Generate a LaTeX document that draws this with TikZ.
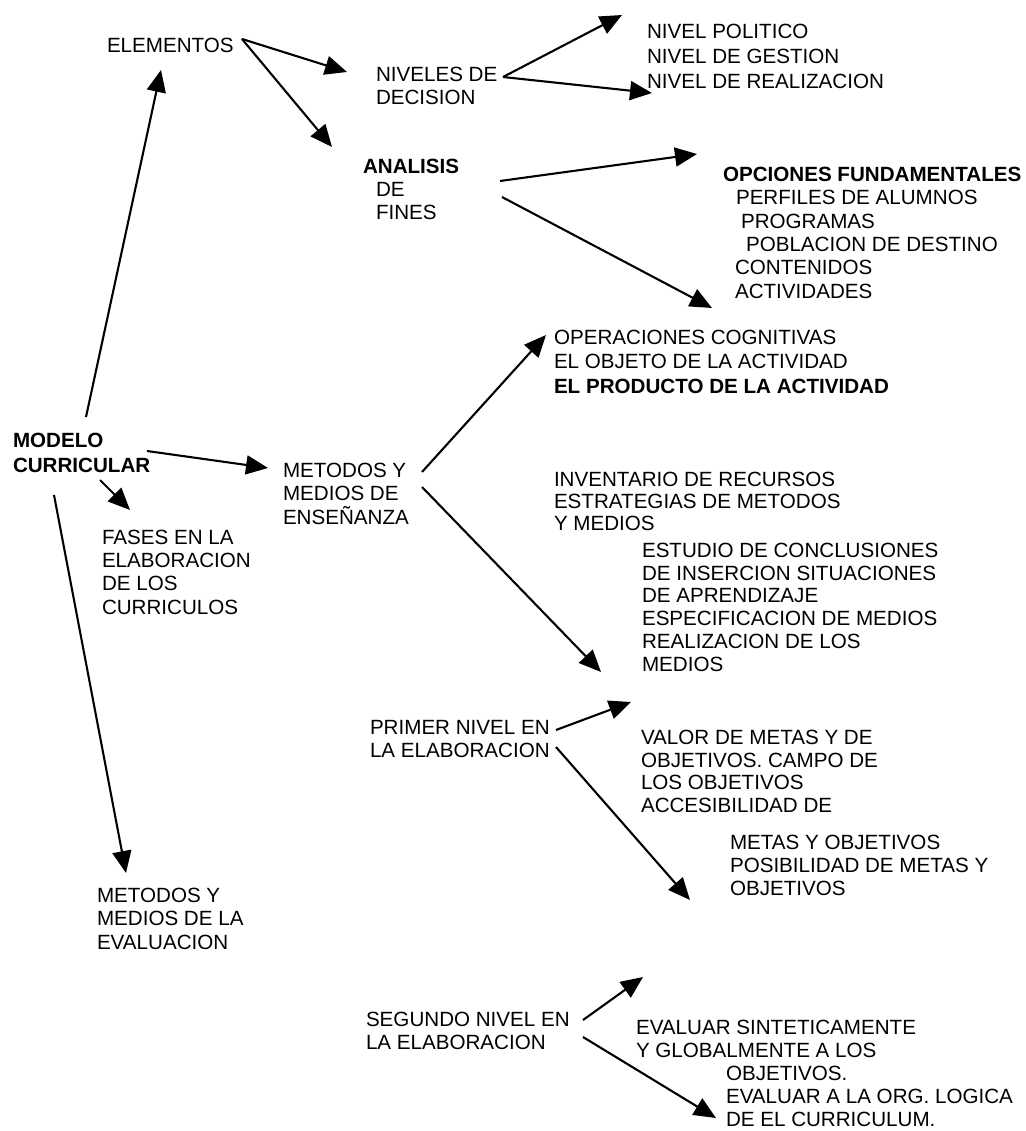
\documentclass[tikz,border=0pt]{standalone}
\usepackage{fontspec}
\setmainfont{Liberation Sans}
\usetikzlibrary{arrows.meta}
\begin{document}
\begin{tikzpicture}[x=1pt,y=-1pt,
  lbl/.style={anchor=north west, inner sep=0pt, outer sep=0pt, align=left,
              font=\fontsize{20.6}{#1}\selectfont},
  lbl/.default=23.2,
  conn/.style={line width=2.1pt, -{Triangle[length=22pt,width=19pt]}}]
\useasboundingbox (0,0) rectangle (1025,1131);

% ---- text nodes ----
\node[lbl] (elementos) at (107,38) {ELEMENTOS};
\node[lbl=23] (niveles) at (376,67) {NIVELES DE\\DECISION};
\node[lbl=25] (nivpol) at (647,24) {NIVEL POLITICO\\NIVEL DE GESTION\\NIVEL DE REALIZACION};
\node[lbl=23] (analisis) at (363,159) {\textbf{ANALISIS}\\\hspace*{13pt}DE\\\hspace*{13pt}FINES};
\node[lbl=23.4] (opciones) at (723,167) {\textbf{OPCIONES FUNDAMENTALES}\\
  \hspace*{13pt}PERFILES DE ALUMNOS\\
  \hspace*{18pt}PROGRAMAS\\
  \hspace*{23pt}POBLACION DE DESTINO\\
  \hspace*{12pt}CONTENIDOS\\
  \hspace*{12pt}ACTIVIDADES};
\node[lbl=24.5] (operaciones) at (554,330) {OPERACIONES COGNITIVAS\\EL OBJETO DE LA ACTIVIDAD\\\textbf{EL PRODUCTO DE LA ACTIVIDAD}};
\node[lbl=25] (modelo) at (13,433) {\textbf{MODELO}\\\textbf{CURRICULAR}};
\node[lbl=23.5] (metodos) at (283,463) {METODOS Y\\MEDIOS DE\\ENSEÑANZA};
\node[lbl=23.3] (fases) at (102,530) {FASES EN LA\\ELABORACION\\DE LOS\\CURRICULOS};
\node[lbl=22] (inventario) at (554,472) {INVENTARIO DE RECURSOS\\ESTRATEGIAS DE METODOS\\Y MEDIOS};
\node[lbl=22.8] (estudio) at (642,543) {ESTUDIO DE CONCLUSIONES\\DE INSERCION SITUACIONES\\DE APRENDIZAJE\\ESPECIFICACION DE MEDIOS\\REALIZACION DE LOS\\MEDIOS};
\node[lbl=23] (primer) at (370,720) {PRIMER NIVEL EN\\LA ELABORACION};
\node[lbl=22.7] (valor) at (641,730) {VALOR DE METAS Y DE\\OBJETIVOS. CAMPO DE\\LOS OBJETIVOS\\ACCESIBILIDAD DE};
\node[lbl=23] (metas) at (730,835) {METAS Y OBJETIVOS\\POSIBILIDAD DE METAS Y\\OBJETIVOS};
\node[lbl=23.5] (evaluacion) at (97,888) {METODOS Y\\MEDIOS DE LA\\EVALUACION};
\node[lbl=23] (segundo) at (366,1012) {SEGUNDO NIVEL EN\\LA ELABORACION};
\node[lbl=23] (evaluar) at (636,1020) {EVALUAR SINTETICAMENTE\\Y GLOBALMENTE A LOS\\
  \hspace*{90pt}OBJETIVOS.\\
  \hspace*{90pt}EVALUAR A LA ORG. LOGICA\\
  \hspace*{90pt}DE EL CURRICULUM.};

% ---- connector end points ----
\coordinate (mUp)   at (86,417);
\coordinate (mRt)   at (147,451);
\coordinate (mDr)   at (100,480);
\coordinate (mDn)   at (54,495);
\coordinate (eOut)  at (242,39);
\coordinate (nOut)  at (503,77);
\coordinate (aOutU) at (500,181);
\coordinate (aOutD) at (502,197);
\coordinate (meOutU) at (422,472);
\coordinate (meOutD) at (422,487);
\coordinate (pOutU) at (556,730);
\coordinate (pOutD) at (556,747);
\coordinate (sOutU) at (583,1020);
\coordinate (sOutD) at (583,1037);

\coordinate (tElem)  at (161,70);
\coordinate (tMet)   at (268,468);
\coordinate (tFas)   at (130,510);
\coordinate (tEval)  at (126,873);
\coordinate (tNiv)   at (347,72);
\coordinate (tAna)   at (332,147);
\coordinate (tPol)   at (622,15);
\coordinate (tReal)  at (652,93);
\coordinate (tOpc)   at (697,154);
\coordinate (tAct)   at (712,308);
\coordinate (tOper)  at (546,335);
\coordinate (tMed)   at (601,672);
\coordinate (tValor) at (631,702);
\coordinate (tMetas) at (690,900);
\coordinate (tEvS)   at (643,977);
\coordinate (tEvC)   at (716,1118);

% ---- connectors ----
\draw[conn] (mUp) -- (tElem);
\draw[conn] (mRt) -- (tMet);
\draw[conn] (mDr) -- (tFas);
\draw[conn] (mDn) -- (tEval);
\draw[conn] (eOut) -- (tNiv);
\draw[conn] (eOut) -- (tAna);
\draw[conn] (nOut) -- (tPol);
\draw[conn] (nOut) -- (tReal);
\draw[conn] (aOutU) -- (tOpc);
\draw[conn] (aOutD) -- (tAct);
\draw[conn] (meOutU) -- (tOper);
\draw[conn] (meOutD) -- (tMed);
\draw[conn] (pOutU) -- (tValor);
\draw[conn] (pOutD) -- (tMetas);
\draw[conn] (sOutU) -- (tEvS);
\draw[conn] (sOutD) -- (tEvC);
\end{tikzpicture}
\end{document}
